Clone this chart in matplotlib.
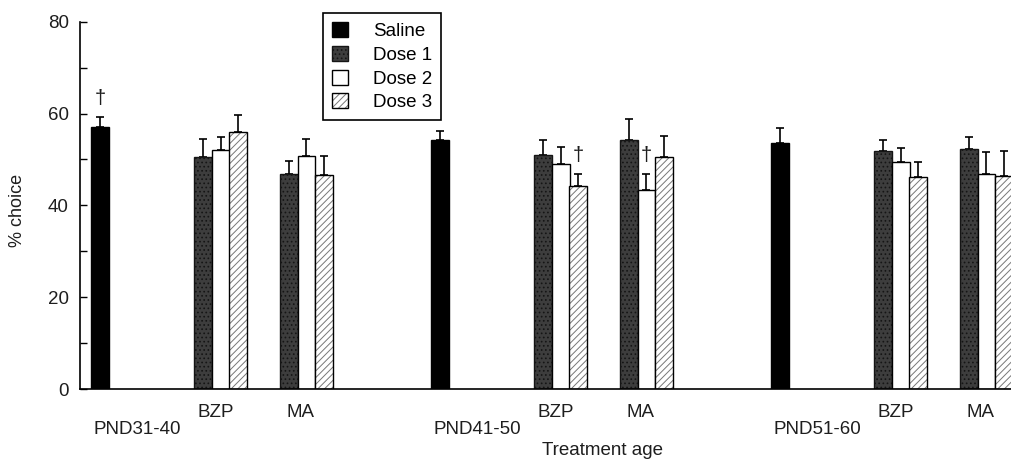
"""
% choice by treatment age - saline vs BZP / MA doses (grouped bars, SEM up only)
"""

import numpy as np
import matplotlib
matplotlib.use("Agg")
import matplotlib.pyplot as plt
from matplotlib.transforms import blended_transform_factory

plt.rcParams.update({
    'font.family': ['Liberation Sans', 'DejaVu Sans'],
    'font.size': 13,
    'hatch.linewidth': 0.7,
})

# ---- data ----
AGES = ['PND31-40', 'PND41-50', 'PND51-60']
DRUGS = ['BZP', 'MA']
DOSES = ['Dose 1', 'Dose 2', 'Dose 3']

saline_mean = [57.1, 54.3, 53.5]
saline_err = [2.2, 2.0, 3.4]

bzp_d1 = [50.6, 51.0, 51.8]
bzp_d1_err = [3.9, 3.3, 2.4]
bzp_d2 = [52.1, 49.1, 49.5]
bzp_d2_err = [2.7, 3.6, 3.0]
bzp_d3 = [55.9, 44.2, 46.2]
bzp_d3_err = [3.8, 2.7, 3.2]

ma_d1 = [46.9, 54.2, 52.3]
ma_d1_err = [2.8, 4.7, 2.5]
ma_d2 = [50.8, 43.3, 46.8]
ma_d2_err = [3.6, 3.6, 4.8]
ma_d3 = [46.6, 50.6, 46.4]
ma_d3_err = [4.1, 4.5, 5.4]

# significance daggers: (age index, drug or 'Saline', dose index)
DAGGERS = [(0, 'Saline', 0), (1, 'BZP', 2), (1, 'MA', 1)]

# ---- layout ----
BAR_W = 0.052
GROUP_OFFSET = {'Saline': 0.0, 'BZP': 0.355, 'MA': 0.607}
DOSE_SHIFT = [-0.0515, 0.0, 0.0515]
FS = 13.5
TXT = '#1e1e1e'

STYLE = [
    dict(facecolor='#3d3d3d', hatch='....', edgecolor='#151515', linewidth=1.0),
    dict(facecolor='white', edgecolor='black', linewidth=1.0),
    dict(facecolor='white', hatch='/////', edgecolor='#777777', linewidth=0),
]

fig = plt.figure(figsize=(10.12, 4.61), dpi=100)
ax = fig.add_axes([80 / 1012, 1 - 389 / 461, 932 / 1012, 367.3 / 461])

x_age = np.arange(len(AGES))

# saline
sal = ax.bar(x_age, saline_mean, BAR_W, color='black', edgecolor='black',
             linewidth=1.0, zorder=2)
ax.errorbar(x_age, saline_mean, yerr=[np.zeros(3), saline_err], fmt='none',
            ecolor='black', elinewidth=1.2, capsize=3, capthick=1.2, zorder=1)

drug_data = {
    'BZP': [(bzp_d1, bzp_d1_err), (bzp_d2, bzp_d2_err), (bzp_d3, bzp_d3_err)],
    'MA': [(ma_d1, ma_d1_err), (ma_d2, ma_d2_err), (ma_d3, ma_d3_err)],
}

handles = {}
for drug in DRUGS:
    for k, (vals, errs) in enumerate(drug_data[drug]):
        xs = x_age + GROUP_OFFSET[drug] + DOSE_SHIFT[k]
        b = ax.bar(xs, vals, BAR_W, zorder=2, **STYLE[k])
        if k == 2:
            outline = ax.bar(xs, vals, BAR_W, fill=False, edgecolor='black',
                             linewidth=1.0, zorder=3)
            handles[k] = (b, outline)
        else:
            handles[k] = b
        ax.errorbar(xs, vals, yerr=[np.zeros(len(vals)), errs], fmt='none',
                    ecolor='black', elinewidth=1.2, capsize=3, capthick=1.2,
                    zorder=1)

# daggers
for age, grp, dose in DAGGERS:
    if grp == 'Saline':
        xd, top = x_age[age], saline_mean[age] + saline_err[age]
    else:
        vals, errs = drug_data[grp][dose]
        xd = x_age[age] + GROUP_OFFSET[grp] + DOSE_SHIFT[dose]
        top = vals[age] + errs[age]
    ax.text(xd, top + 4.0, '†', ha='center', va='center', fontsize=14.5,
            color=TXT)

# axes styling
ax.set_xlim(-0.059, 2.682)
ax.set_ylim(0, 80)
ax.spines['top'].set_visible(False)
ax.spines['right'].set_visible(False)
ax.spines['left'].set_linewidth(1.2)
ax.spines['bottom'].set_linewidth(1.2)
ax.set_xticks([])
ax.set_yticks([0, 20, 40, 60, 80])
ax.set_yticks([10, 30, 50, 70], minor=True)
ax.tick_params(axis='y', which='both', direction='in', length=5, width=1.0,
               labelsize=FS, pad=8, labelcolor=TXT)

# category labels under the axis
trans = blended_transform_factory(ax.transData, ax.transAxes)
px = 1 / 367.3
for i, age in enumerate(AGES):
    ax.text(i + 0.11, -40 * px, age, transform=trans, ha='center', va='center',
            fontsize=FS, color=TXT)
    ax.text(i + 0.34, -23 * px, 'BZP', transform=trans, ha='center',
            va='center', fontsize=FS, color=TXT)
    ax.text(i + 0.59, -23 * px, 'MA', transform=trans, ha='center',
            va='center', fontsize=FS, color=TXT)

fig.text(603 / 1012, 1 - 450 / 461, 'Treatment age', ha='center', va='center',
         fontsize=FS, color=TXT)
fig.text(17 / 1012, 1 - 210 / 461, '% choice', ha='center', va='center',
         rotation=90, fontsize=13, color=TXT)

leg = fig.legend([sal, handles[0], handles[1], handles[2]],
                 ['Saline'] + DOSES,
                 loc='upper left', bbox_to_anchor=(323 / 1012, 1 - 13 / 461),
                 borderaxespad=0, fancybox=False, edgecolor='black',
                 framealpha=1, fontsize=FS, handlelength=0.85,
                 handleheight=0.85, handletextpad=1.3, labelspacing=0.3,
                 borderpad=0.5)
leg.get_frame().set_linewidth(1.2)

fig.savefig('out.png', dpi=100)
